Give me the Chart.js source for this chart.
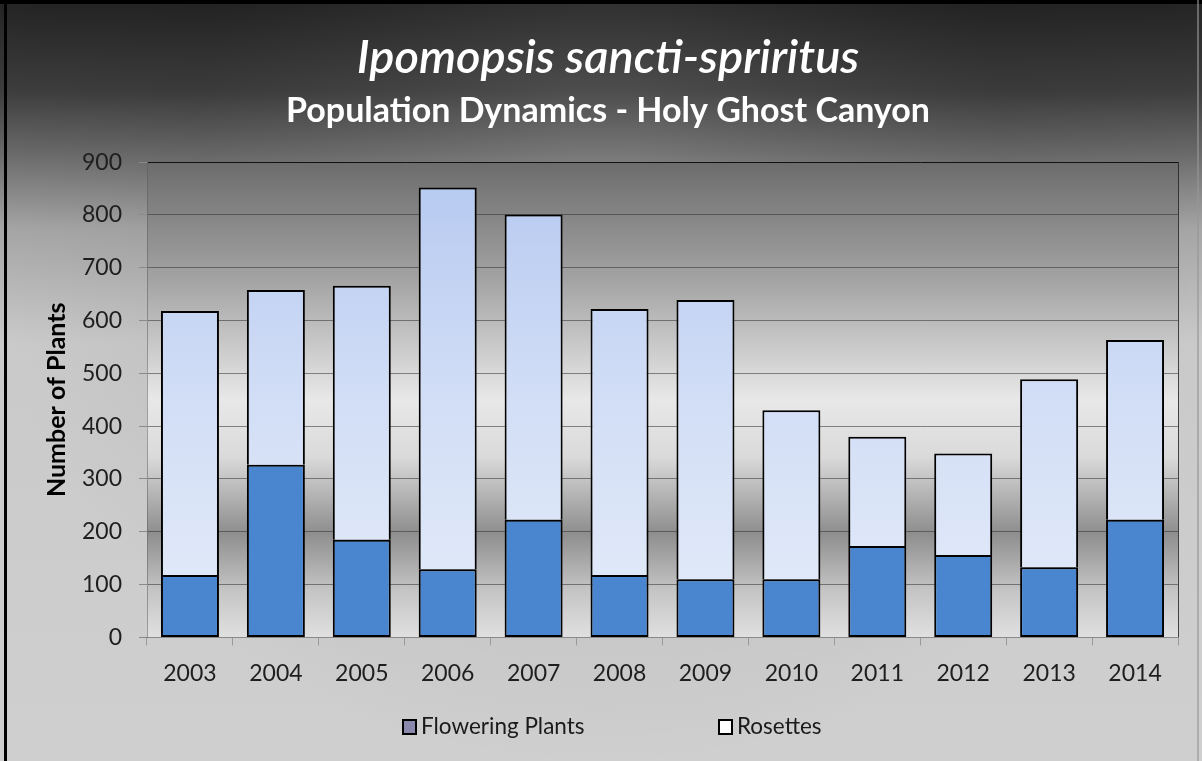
<!DOCTYPE html>
<html>
<head>
<meta charset="utf-8">
<title>Ipomopsis sancti-spriritus</title>
<script src="https://cdn.jsdelivr.net/npm/chart.js@4.4.1/dist/chart.umd.min.js"></script>
<style>
  html, body { margin: 0; padding: 0; background: #ffffff; }
  #wrap { width: 1202px; height: 761px; }
</style>
</head>
<body>
<div id="wrap"><canvas id="popChart" width="1202" height="761"></canvas></div>
<script>
// Data
const years = ['2003', '2004', '2005', '2006', '2007', '2008', '2009', '2010', '2011', '2012', '2013', '2014'];
const floweringPlants = [118, 327, 185, 129, 223, 118, 110, 110, 173, 156, 133, 223];
const rosettes = [500, 331, 481, 723, 578, 504, 529, 320, 207, 192, 356, 340];
const yTicks = [0, 100, 200, 300, 400, 500, 600, 700, 800, 900];

const seriesNames = ['Flowering Plants', 'Rosettes'];
const legendSwatches = ['#8a88ad', '#ffffff'];

const FONT = 'Lato, "Open Sans", sans-serif';

// Backdrop: dark top fading to light grey, plus the chrome-like plot area
const backdrop = {
    id: 'backdrop',
    beforeDraw(chart) {
        const ctx = chart.ctx;
        const w = chart.width, h = chart.height;
        const area = chart.chartArea;
        ctx.save();

        let g = ctx.createLinearGradient(0, 0, 0, h);
        g.addColorStop(0, '#232323');
        g.addColorStop(0.12, '#3e3e3e');
        g.addColorStop(0.2, '#6a6a6a');
        g.addColorStop(0.3, '#a6a6a6');
        g.addColorStop(0.45, '#cacaca');
        g.addColorStop(1, '#cfcfcf');
        ctx.fillStyle = g;
        ctx.fillRect(0, 0, w, h);

        // lighter glow behind the title, darker top corners
        const r = ctx.createRadialGradient(w / 2, 120, 40, w / 2, 120, 650);
        r.addColorStop(0, 'rgba(255,255,255,0.08)');
        r.addColorStop(0.6, 'rgba(0,0,0,0.05)');
        r.addColorStop(1, 'rgba(0,0,0,0)');
        ctx.fillStyle = r;
        ctx.fillRect(0, 0, w, h);

        // plot area
        g = ctx.createLinearGradient(0, area.top, 0, area.bottom);
        g.addColorStop(0, '#6c6c6c');
        g.addColorStop(0.25, '#a4a4a4');
        g.addColorStop(0.50, '#e8e8e8');
        g.addColorStop(0.62, '#dadada');
        g.addColorStop(0.78, '#8e8e8e');
        g.addColorStop(0.90, '#c4c4c4');
        g.addColorStop(1, '#e0e0e0');
        ctx.fillStyle = g;
        ctx.fillRect(area.left, area.top, area.right - area.left, area.bottom - area.top);

        // plot area right edge
        ctx.strokeStyle = 'rgba(30,30,30,0.8)';
        ctx.lineWidth = 1;
        ctx.beginPath();
        ctx.moveTo(area.right + 0.5, area.top);
        ctx.lineTo(area.right + 0.5, area.bottom);
        ctx.stroke();

        // outer frame
        ctx.fillStyle = '#000000';
        ctx.fillRect(0, 0, w, 4);
        ctx.fillRect(4, 0, 3, h);
        ctx.fillStyle = 'rgba(150,150,150,0.6)';
        ctx.fillRect(w - 5, 0, 2, h);
        ctx.restore();
    }
};

// Legend drawn on the canvas, spaced like the reference
const bottomLegend = {
    id: 'bottomLegend',
    afterDraw(chart) {
        const ctx = chart.ctx;
        const y = 727;
        const items = [
            { x: 403, text: seriesNames[0], fill: legendSwatches[0] },
            { x: 719, text: seriesNames[1], fill: legendSwatches[1] }
        ];
        ctx.save();
        ctx.font = '22.5px ' + FONT;
        ctx.textBaseline = 'middle';
        items.forEach(function(it) {
            ctx.fillStyle = it.fill;
            ctx.fillRect(it.x, y - 7, 13, 14);
            ctx.strokeStyle = '#000000';
            ctx.lineWidth = 2;
            ctx.strokeRect(it.x, y - 7, 13, 14);
            ctx.fillStyle = '#1a1a1a';
            ctx.fillText(it.text, it.x + 18, y);
        });
        ctx.restore();
    }
};

function rosetteFill(context) {
    const chart = context.chart;
    const area = chart.chartArea;
    if (!area) {
        return '#cddbf4';
    }
    const g = chart.ctx.createLinearGradient(0, area.top, 0, area.bottom);
    g.addColorStop(0, '#b4c8f0');
    g.addColorStop(0.5, '#d2def6');
    g.addColorStop(1, '#e4ecf9');
    return g;
}

const ctx = document.getElementById('popChart').getContext('2d');
const popChart = new Chart(ctx, {
    type: 'bar',
    data: {
        labels: years,
        datasets: [{
            label: seriesNames[0],
            data: floweringPlants,
            backgroundColor: '#4a86d0',
            borderColor: '#000000',
            borderWidth: 2,
            borderSkipped: false,
            categoryPercentage: 1.0,
            barPercentage: 0.675
        }, {
            label: seriesNames[1],
            data: rosettes,
            backgroundColor: rosetteFill,
            borderColor: '#000000',
            borderWidth: 2,
            borderSkipped: 'start', // the flowering bar already draws the shared edge
            categoryPercentage: 1.0,
            barPercentage: 0.675
        }]
    },
    options: {
        responsive: false,
        animation: false,
        layout: {
            padding: { left: 38, right: 24, top: 22, bottom: 60 }
        },
        plugins: {
            legend: { display: false },
            tooltip: { enabled: false },
            title: {
                display: true,
                text: 'Ipomopsis sancti-spriritus',
                color: '#ffffff',
                font: { family: FONT, size: 47, style: 'italic', weight: '600', lineHeight: 1.1 },
                padding: { top: 10, bottom: 6 }
            },
            subtitle: {
                display: true,
                text: 'Population Dynamics - Holy Ghost Canyon',
                color: '#ffffff',
                font: { family: FONT, size: 34, weight: 'bold', lineHeight: 1.1 },
                padding: { top: 3, bottom: 32 }
            }
        },
        scales: {
            x: {
                stacked: true,
                grid: {
                    offset: true,
                    drawOnChartArea: false,
                    drawTicks: true,
                    tickLength: 8,
                    color: '#9a9a9a'
                },
                border: { display: true, color: '#8a8a8a' },
                ticks: {
                    color: '#1e1e1e',
                    font: { family: FONT, size: 23 },
                    padding: 14
                }
            },
            y: {
                stacked: true,
                min: 0,
                max: 900,
                afterFit: function(scale) { scale.width = 109; },
                afterBuildTicks: function(scale) {
                    scale.ticks = yTicks.map(function(v) { return { value: v }; });
                },
                grid: {
                    color: function(c) {
                        return c.tick && c.tick.value === 900 ? '#111111' : 'rgba(50,50,50,0.55)';
                    },
                    tickLength: 8,
                    tickColor: '#8a8a8a'
                },
                border: { display: true, color: 'rgba(90,90,90,0.5)' },
                ticks: {
                    color: '#1e1e1e',
                    font: { family: FONT, size: 23 },
                    padding: 17
                },
                title: {
                    display: true,
                    text: 'Number of Plants',
                    color: '#000000',
                    font: { family: FONT, size: 25, weight: 'bold' },
                    padding: { top: 4, bottom: 4 }
                }
            }
        }
    },
    plugins: [backdrop, bottomLegend]
});
</script>
</body>
</html>
